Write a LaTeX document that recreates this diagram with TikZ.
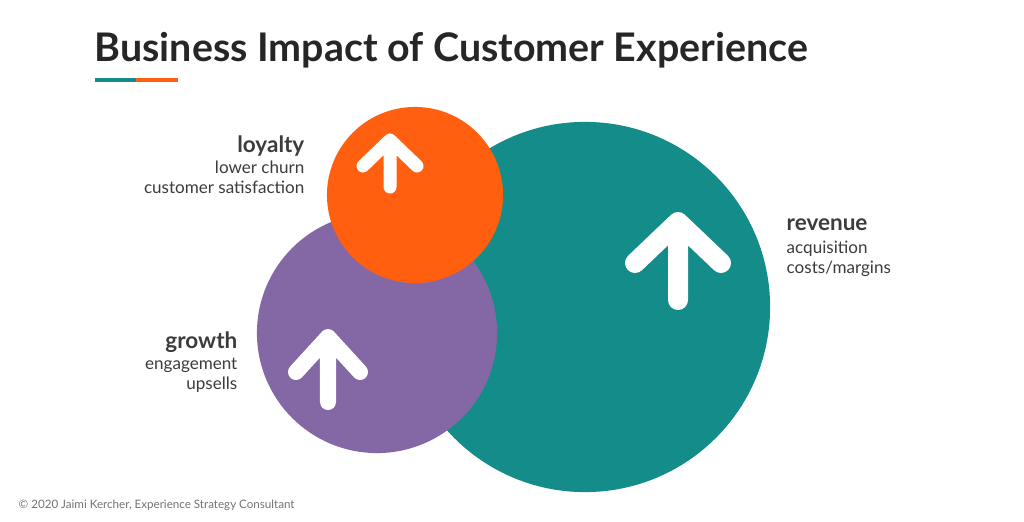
\documentclass[tikz,border=0pt]{standalone}
\usepackage{fontspec}
\setmainfont{Lato}
\usetikzlibrary{positioning}
\definecolor{teal}{HTML}{138C8A}
\definecolor{orangec}{HTML}{FF5F0F}
\definecolor{purplec}{HTML}{8468A6}
\definecolor{textc}{HTML}{3C3C3C}
\begin{document}
\begin{tikzpicture}[x=0.01cm,y=-0.01cm]
    % Define styles
    \tikzset{
        bubble/.style={circle, inner sep=0pt},
        uparrow/.style={white, line width=#1, line cap=round, line join=round},
        head/.style={font=\fontsize{6.4}{7}\selectfont\bfseries, text=textc, inner sep=0pt},
        sub/.style={font=\fontsize{4.85}{5.7}\selectfont, text=textc, inner sep=0pt, align=right}
    }
    \useasboundingbox[fill=white] (0,0) rectangle (1024,521);

    % Title
    \node[anchor=west, inner sep=0pt, font=\fontsize{11.2}{13}\selectfont\bfseries, text=black!85] (title) at (94,50) {Business Impact of Customer Experience};
    \draw[teal, line width=1.2pt] (95,80) -- (136,80);
    \draw[orangec, line width=1.2pt] (136,80) -- (178,80);

    % Circles
    \node[bubble, fill=teal, minimum size=3.7cm] (revenue_circle) at (585,307) {};
    \node[bubble, fill=purplec, minimum size=2.4cm] (growth_circle) at (377,333) {};
    \node[bubble, fill=orangec, minimum size=1.76cm] (loyalty_circle) at (415,195) {};

    % Arrows
    \draw[uparrow=0.2cm] (678,300) -- (678,222) (635,263) -- (678,222) -- (721,263);
    \draw[uparrow=0.13cm] (390,187) -- (390,140) (363,166) -- (390,140) -- (417,166);
    \draw[uparrow=0.16cm] (328,402) -- (328,337) (296,372) -- (328,337) -- (360,372);

    % Labels
    \node[head, anchor=east] (loyalty) at (305,146) {loyalty};
    \node[sub, anchor=north east] (loyalty_sub) at (305,160) {lower churn\\customer satisfaction};
    \node[head, anchor=west] (revenue) at (786,225) {revenue};
    \node[sub, anchor=north west, align=left] (revenue_sub) at (786,240) {acquisition\\costs/margins};
    \node[head, anchor=east] (growth) at (238,342) {growth};
    \node[sub, anchor=north east] (growth_sub) at (238,357) {engagement\\upsells};

    % Footnote
    \node[anchor=west, inner sep=0pt, font=\fontsize{3.3}{4}\selectfont, text=black!55] (footer) at (18,505) {© 2020 Jaimi Kercher, Experience Strategy Consultant};
\end{tikzpicture}
\end{document}
